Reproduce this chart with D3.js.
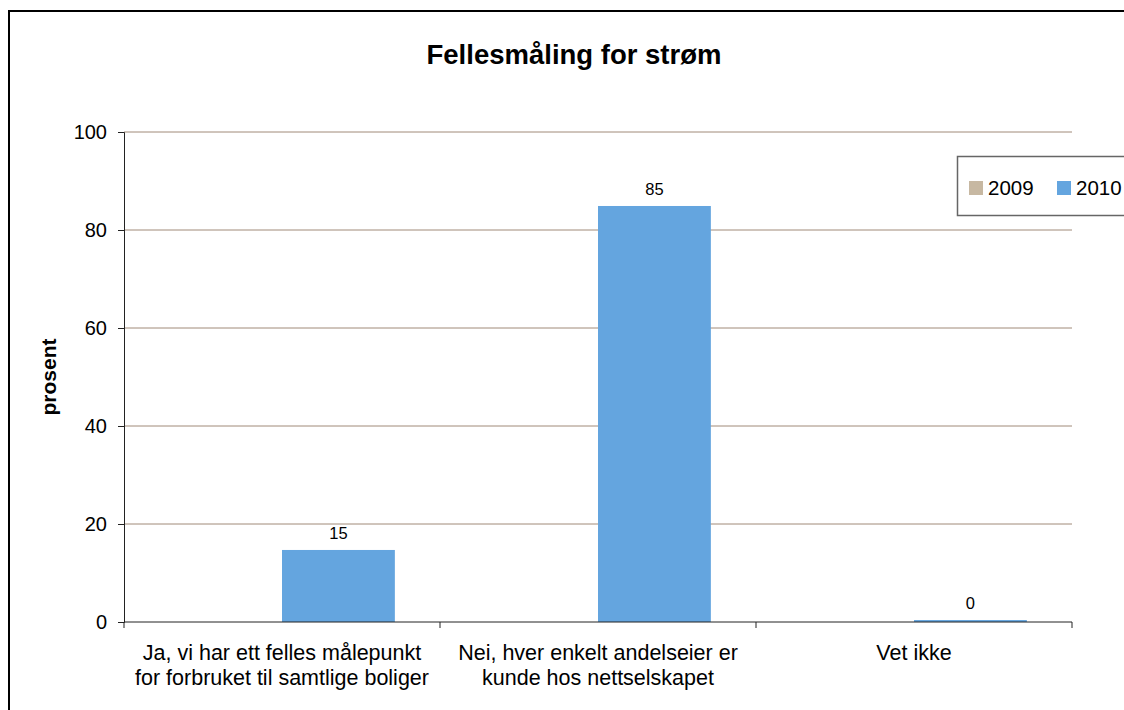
<!DOCTYPE html>
<html>
<head>
<meta charset="utf-8">
<script src="https://cdn.jsdelivr.net/npm/d3@7/dist/d3.min.js"></script>
<style>
  html, body { margin: 0; padding: 0; background: #fff; }
  svg { display: block; font-family: "Liberation Sans", Arial, sans-serif; }
</style>
</head>
<body>
<svg id="chart" width="1124" height="710"></svg>
<script>
// Survey answers: shared electricity metering
const categories = [
  ["Ja, vi har ett felles målepunkt", "for forbruket til samtlige boliger"],
  ["Nei, hver enkelt andelseier er", "kunde hos nettselskapet"],
  ["Vet ikke"]
];
const seriesNames = ["2009", "2010"];
const values2009 = [null, null, null];
const values2010 = [14.7, 84.9, 0.4];
const yTicks = [0, 20, 40, 60, 80, 100];
const seriesColors = ["#c7b8a2", "#64a5df"];

const svg = d3.select("#chart");
const margin = { left: 124, right: 1072, top: 132, bottom: 622 };

// Outer frame
svg.append("rect")
  .attr("x", 9).attr("y", 11)
  .attr("width", 1200).attr("height", 800)
  .attr("fill", "none").attr("stroke", "#000").attr("stroke-width", 2);

// Title
svg.append("text")
  .attr("x", 574).attr("y", 64)
  .attr("text-anchor", "middle")
  .attr("font-size", 27.5).attr("font-weight", "bold")
  .text("Fellesmåling for strøm");

const catKeys = categories.map((c, i) => i);
const x0 = d3.scaleBand().domain(catKeys).range([margin.left, margin.right]).padding(0);
const x1 = d3.scaleBand().domain(seriesNames).range([0, x0.bandwidth()])
  .paddingInner(0).paddingOuter(0.4);
const y = d3.scaleLinear().domain([0, 100]).range([margin.bottom, margin.top]);

// Horizontal gridlines
svg.append("g").selectAll("line")
  .data(yTicks.filter(d => d > 0))
  .join("line")
  .attr("x1", margin.left).attr("x2", margin.right)
  .attr("y1", d => y(d)).attr("y2", d => y(d))
  .attr("stroke", "#a08a78").attr("stroke-width", 1);

// Bars
const seriesData = [values2009, values2010];
seriesData.forEach((vals, si) => {
  svg.append("g").selectAll("rect")
    .data(vals.map((v, i) => ({ i, v })).filter(d => d.v != null))
    .join("rect")
    .attr("x", d => x0(d.i) + x1(seriesNames[si]))
    .attr("width", x1.bandwidth())
    .attr("y", d => y(d.v))
    .attr("height", d => y(0) - y(d.v))
    .attr("fill", seriesColors[si]);
});

// Value labels on 2010 bars
svg.append("g").selectAll("text")
  .data(values2010.map((v, i) => ({ i, v })))
  .join("text")
  .attr("x", d => x0(d.i) + x1("2010") + x1.bandwidth() / 2)
  .attr("y", d => y(d.v) - 11)
  .attr("text-anchor", "middle")
  .attr("font-size", 16.5)
  .text(d => d3.format(".0f")(d.v));

// Y axis
const yAxis = d3.axisLeft(y).tickValues(yTicks).tickSize(6).tickPadding(11);
const gy = svg.append("g").attr("transform", `translate(${margin.left},0)`).call(yAxis);
gy.select(".domain").attr("stroke", "#222");
gy.selectAll(".tick line").attr("stroke", "#222");
gy.selectAll(".tick text").attr("font-size", 20).attr("fill", "#000")
  .attr("font-family", "Liberation Sans, Arial, sans-serif");

// X axis with tick marks at category boundaries
const gx = svg.append("g").attr("transform", `translate(0,${margin.bottom})`);
gx.append("line")
  .attr("x1", margin.left).attr("x2", margin.right)
  .attr("stroke", "#222");
const bounds = catKeys.map(i => x0(i)).concat([margin.right]);
gx.selectAll("line.tk").data(bounds).join("line").attr("class", "tk")
  .attr("x1", d => d).attr("x2", d => d)
  .attr("y1", 0).attr("y2", 6)
  .attr("stroke", "#222");
gx.selectAll("text.cat").data(categories).join("text").attr("class", "cat")
  .attr("text-anchor", "middle")
  .attr("font-size", 21.5)
  .each(function(lines, i) {
    const t = d3.select(this);
    lines.forEach((ln, k) => {
      t.append("tspan")
        .attr("x", x0(i) + x0.bandwidth() / 2)
        .attr("y", 38 + k * 25)
        .text(ln);
    });
  });

// Y axis title
svg.append("text")
  .attr("transform", "translate(56,377) rotate(-90)")
  .attr("text-anchor", "middle")
  .attr("font-size", 21).attr("font-weight", "bold")
  .text("prosent");

// Legend
const lg = svg.append("g");
lg.append("rect")
  .attr("x", 957.5).attr("y", 156.5)
  .attr("width", 200).attr("height", 59)
  .attr("fill", "#fff").attr("stroke", "#666").attr("stroke-width", 1.5);
const legendX = [969, 1057];
seriesNames.forEach((name, i) => {
  lg.append("rect")
    .attr("x", legendX[i]).attr("y", 181)
    .attr("width", 14).attr("height", 14)
    .attr("fill", seriesColors[i]);
  lg.append("text")
    .attr("x", legendX[i] + 19).attr("y", 195)
    .attr("font-size", 20.5)
    .text(name);
});
</script>
</body>
</html>
